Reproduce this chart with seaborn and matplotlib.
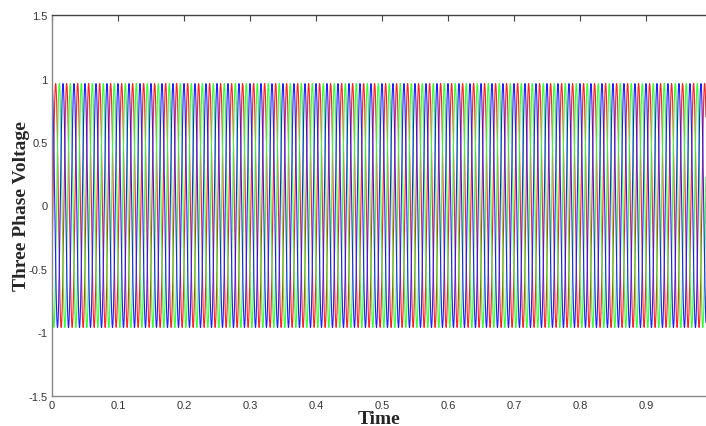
import numpy as np
import pandas as pd
import matplotlib
matplotlib.use("Agg")
import matplotlib.pyplot as plt
import seaborn as sns

# ── Signal parameters ─────────────────────────────────────
phases = ["Phase B", "Phase A", "Phase C"]
phase_colors = ["#ff2020", "#30ff30", "#2020ff"]
phase_shift_deg = [-120, 120, 0]
amplitude = 0.96
freq_hz = 60
t_end = 0.991
sample_rate = 10000

x_ticks = [0, 0.1, 0.2, 0.3, 0.4, 0.5, 0.6, 0.7, 0.8, 0.9]
y_ticks = [-1.5, -1, -0.5, 0, 0.5, 1, 1.5]

# ── Build long-form table ────────────────────────────────
t = np.arange(0, t_end, 1 / sample_rate)
frames = []
for name, shift in zip(phases, phase_shift_deg):
    v = amplitude * np.cos(2 * np.pi * freq_hz * t + np.deg2rad(shift))
    frames.append(pd.DataFrame({"Time": t, "Voltage": v, "Phase": name}))
df = pd.concat(frames, ignore_index=True)

# ── Plot ─────────────────────────────────────────────────
sns.set_style("white")
fig = plt.figure(figsize=(7.06, 4.27), dpi=100)
ax = fig.add_axes([52 / 706, 30 / 427, 654 / 706, 381 / 427])

sns.lineplot(data=df, x="Time", y="Voltage", hue="Phase",
             palette=dict(zip(phases, phase_colors)),
             estimator=None, sort=False, linewidth=0.8,
             legend=False, ax=ax)

ax.set_xlim(0, t_end)
ax.set_ylim(-1.5, 1.5)
ax.set_xticks(x_ticks)
ax.set_xticklabels([f"{v:g}" for v in x_ticks])
ax.set_yticks(y_ticks)
ax.set_yticklabels([f"{v:g}" for v in y_ticks])
ax.tick_params(direction="in", length=4, width=0.8, color="#444444",
               labelsize=8, labelcolor="#333333", top=True, right=False,
               pad=3)
for lab in ax.get_xticklabels() + ax.get_yticklabels():
    lab.set_family("Liberation Sans")

for side in ["top", "bottom", "left"]:
    ax.spines[side].set_visible(True)
    ax.spines[side].set_linewidth(1.0)
ax.spines["top"].set_color("#444444")
ax.spines["bottom"].set_color("#888888")
ax.spines["left"].set_color("#888888")
ax.spines["right"].set_visible(False)

ax.set_xlabel("Time", fontsize=14, fontweight="bold",
              family="Liberation Serif", labelpad=0)
ax.set_ylabel("Three Phase Voltage", fontsize=14, fontweight="bold",
              family="Liberation Serif")
ax.yaxis.set_label_coords(-0.034, 0.5)

fig.savefig("out.png", dpi=100)
plt.close(fig)
